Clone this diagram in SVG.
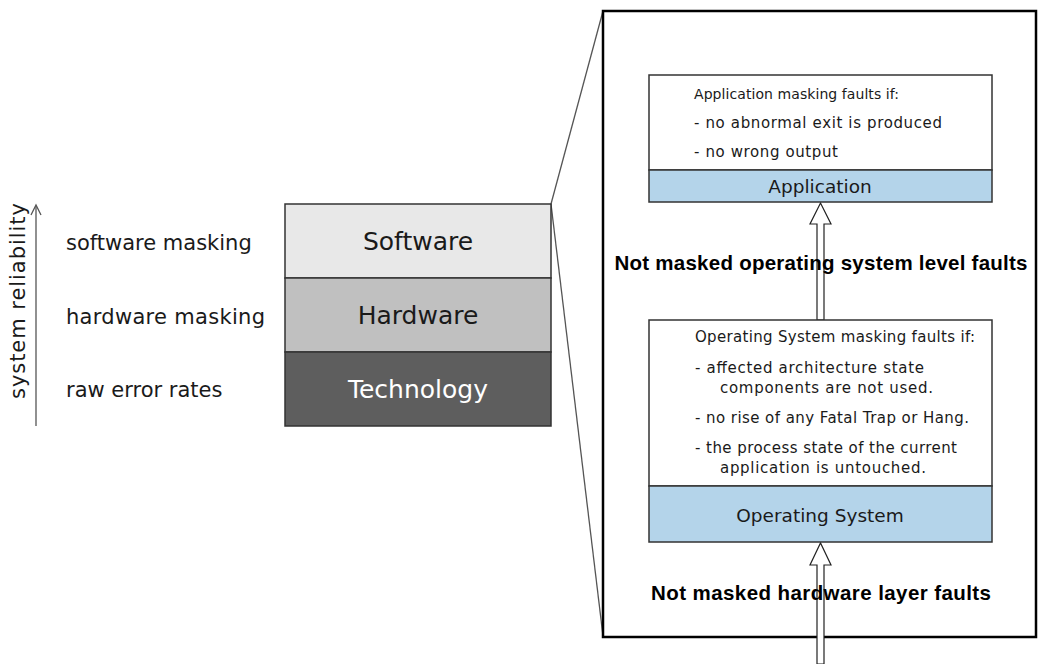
<svg xmlns="http://www.w3.org/2000/svg" width="1040" height="664" viewBox="0 0 1040 664">
<style>
.t{font-family:"DejaVu Sans","Liberation Sans",sans-serif;fill:#1a1a1a}
.lbl{font-size:21px}
.stk{font-size:25px;text-anchor:middle}
.sm{font-size:15px}
.hd{font-size:18.5px;text-anchor:middle}
.b{font-family:"Liberation Sans",Arial,sans-serif;font-weight:bold;font-size:20.5px;fill:#000;text-anchor:middle}
.box{stroke:#333;stroke-width:1.5}
.arr{fill:#fff;stroke:#222;stroke-width:1.2}
</style>
<rect width="1040" height="664" fill="#fff"/>
<g id="axis">
<line x1="36" y1="426" x2="36" y2="206" stroke="#555" stroke-width="1.3"/>
<polyline points="31,215 36,205 41,215" fill="none" stroke="#555" stroke-width="1.3"/>
<text class="t lbl" transform="translate(25,301) rotate(-90)" text-anchor="middle" textLength="196">system reliability</text>
<text class="t lbl" x="66" y="250">software masking</text>
<text class="t lbl" x="66" y="324" textLength="199">hardware masking</text>
<text class="t lbl" x="66" y="397">raw error rates</text>
</g>
<g id="zoom-lines" fill="none" stroke="#555" stroke-width="1.3">
<line x1="551" y1="204" x2="603" y2="11"/>
<line x1="551" y1="204" x2="603" y2="636"/>
</g>
<g id="stack">
<rect class="box" x="285" y="204" width="266" height="74" fill="#e8e8e8"/>
<rect class="box" x="285" y="278" width="266" height="74" fill="#c0c0c0"/>
<rect class="box" x="285" y="352" width="266" height="74" fill="#5e5e5e"/>
<text class="t stk" x="418" y="250">Software</text>
<text class="t stk" x="418" y="324">Hardware</text>
<text class="t stk" x="418" y="398" style="fill:#fff">Technology</text>
</g>
<g id="frame">
<rect x="603" y="11" width="433" height="626" fill="none" stroke="#000" stroke-width="2.5"/>
</g>
<g id="connectors">
<polygon class="arr" points="817,320 817,224 810,224 820.5,203 831,224 824,224 824,320"/>
<polygon class="arr" points="817,664 817,565 810,565 820.5,543 831,565 824,565 824,664"/>
</g>
<g id="application">
<rect class="box" x="649" y="75" width="343" height="95" fill="#fff"/>
<rect class="box" x="649" y="170" width="343" height="32" fill="#b4d4ea"/>
<text class="t sm" x="694" y="99" style="font-size:14px" textLength="205">Application masking faults if:</text>
<text class="t sm" x="694" y="128" textLength="248">- no abnormal exit is produced</text>
<text class="t sm" x="694" y="157" textLength="144">- no wrong output</text>
<text class="t hd" x="820" y="193">Application</text>
</g>
<g id="os">
<rect class="box" x="649" y="320" width="343" height="166" fill="#fff"/>
<rect class="box" x="649" y="486" width="343" height="56" fill="#b4d4ea"/>
<text class="t sm" x="695" y="342" textLength="280">Operating System masking faults if:</text>
<text class="t sm" x="695" y="373" textLength="229">- affected architecture state</text>
<text class="t sm" x="720" y="393" textLength="213">components are not used.</text>
<text class="t sm" x="695" y="423" textLength="274">- no rise of any Fatal Trap or Hang.</text>
<text class="t sm" x="695" y="453" textLength="262">- the process state of the current</text>
<text class="t sm" x="720" y="473" textLength="206">application is untouched.</text>
<text class="t hd" x="820" y="522">Operating System</text>
</g>
<g id="labels">
<text class="b" x="821" y="270" textLength="413">Not masked operating system level faults</text>
<text class="b" x="821" y="600" textLength="340">Not masked hardware layer faults</text>
</g>
</svg>
